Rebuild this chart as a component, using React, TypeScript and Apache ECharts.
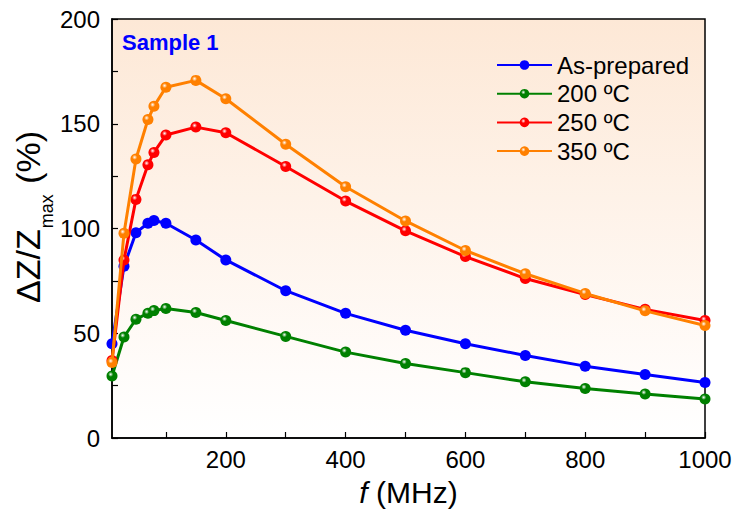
import React, { useEffect, useRef } from "react";
import * as echarts from "echarts";

const freqs = [10, 30, 50, 70, 80, 100, 150, 200, 300, 400, 500, 600, 700, 800, 900, 1000];
const asPrepared = [45, 82, 98, 102.5, 103.8, 102.5, 94.5, 85, 70.3, 59.5, 51.4, 45, 39.4, 34.3, 30.3, 26.5];
const t200 = [29.6, 48.2, 56.7, 59.5, 60.8, 61.8, 59.9, 56.1, 48.5, 41, 35.6, 31.2, 26.8, 23.6, 21, 18.6];
const t250 = [37, 85, 113.9, 130.4, 136.3, 144.6, 148.4, 145.7, 129.6, 113.1, 98.9, 86.6, 76.1, 68.5, 61.4, 56.1];
const t350 = [36, 97.7, 133.2, 152, 158.3, 167.4, 170.7, 161.9, 140.2, 119.9, 103.6, 89.5, 78.4, 69, 60.7, 53.7];
const seriesNames = ["As-prepared", "200 ºC", "250 ºC", "350 ºC"];
const seriesColors = ["#0000FF", "#008000", "#FF0000", "#FF8000"];
const xTickValues = [100, 200, 300, 400, 500, 600, 700, 800, 900, 1000];
const xLabelValues = [200, 400, 600, 800, 1000];

const FONT = "Arial, 'Liberation Sans', sans-serif";

function measure(text: string, fs: number): number {
  const c = document.createElement("canvas").getContext("2d");
  if (!c) return text.length * fs * 0.55;
  c.font = `${fs}px ${FONT}`;
  return c.measureText(text).width;
}

export default function App() {
  const ref = useRef<HTMLDivElement>(null);
  useEffect(() => {
    document.body.style.margin = "0";
    if (!ref.current) return;
    const chart = echarts.init(ref.current, null, { renderer: "svg" });
    const datasets = [asPrepared, t200, t250, t350];

    const glossy = (c: string, i: number) =>
      i === 0
        ? c
        : new echarts.graphic.RadialGradient(0.38, 0.35, 0.65, [
            { offset: 0, color: "#FFFFFF" },
            { offset: 0.35, color: c },
            { offset: 1, color: c },
          ]);

    const series = datasets.map((d, i) => ({
      name: seriesNames[i],
      type: "line",
      data: freqs.map((f, j) => [f, d[j]]),
      symbol: "circle",
      symbolSize: 11,
      lineStyle: { color: seriesColors[i], width: 3 },
      itemStyle: { color: glossy(seriesColors[i], i), borderWidth: 0 },
      emphasis: { disabled: true },
      z: 2 + i,
    }));

    const mainFs = 34;
    const subFs = 18;
    const w1 = measure("ΔZ/Z", mainFs);
    const w2 = measure("max", subFs);

    const textStyleBase = (text: string, fs: number) => ({
      text,
      fontSize: fs,
      fontFamily: FONT,
      fill: "#000",
      align: "left",
      verticalAlign: "middle",
      textAlign: "left",
      textVerticalAlign: "middle",
    });

    chart.setOption({
      animation: false,
      grid: {
        left: 112,
        right: 31,
        top: 19,
        bottom: 69,
        show: true,
        borderColor: "#000",
        borderWidth: 1.5,
        backgroundColor: new echarts.graphic.LinearGradient(0, 0, 0, 1, [
          { offset: 0, color: "#FDE8D6" },
          { offset: 0.85, color: "#FFFCFA" },
          { offset: 1, color: "#FFFFFF" },
        ]),
      },
      legend: {
        data: seriesNames,
        left: 491,
        top: 48,
        orient: "vertical",
        itemWidth: 55,
        itemHeight: 12,
        itemGap: 4.7,
        textStyle: { fontSize: 24, fontFamily: FONT, color: "#000", lineHeight: 24 },
        selectedMode: false,
      },
      xAxis: {
        type: "value",
        min: 10,
        max: 1000,
        axisLine: { onZero: false, lineStyle: { color: "#000", width: 1.5 } },
        axisTick: {
          inside: true,
          length: 6,
          customValues: xTickValues,
          lineStyle: { color: "#000", width: 1.2 },
        },
        axisLabel: {
          customValues: xLabelValues,
          formatter: (v: number) => String(v),
          fontSize: 24,
          fontFamily: FONT,
          color: "#000",
          margin: 9,
        },
        splitLine: { show: false },
        name: "{i|f} (MHz)",
        nameLocation: "middle",
        nameGap: 39,
        nameTextStyle: {
          fontSize: 30,
          fontFamily: FONT,
          color: "#000",
          rich: { i: { fontStyle: "italic", fontSize: 30, fontFamily: FONT, color: "#000" } },
        },
      },
      yAxis: {
        type: "value",
        min: 0,
        max: 200,
        interval: 50,
        axisLine: { lineStyle: { color: "#000", width: 1.5 } },
        axisTick: { inside: true, length: 6, lineStyle: { color: "#000", width: 1.2 } },
        minorTick: { show: true, splitNumber: 2, length: 6, lineStyle: { color: "#000", width: 1.2 } },
        axisLabel: { fontSize: 24, fontFamily: FONT, color: "#000", margin: 12 },
        splitLine: { show: false },
        minorSplitLine: { show: false },
      },
      graphic: [
        {
          type: "text",
          left: 122,
          top: 31,
          style: {
            text: "Sample 1",
            fontSize: 22,
            fontWeight: "bold",
            fontFamily: FONT,
            fill: "#0000FF",
          },
        },
        {
          type: "group",
          x: 0,
          y: 303,
          rotation: Math.PI / 2,
          children: [
            { type: "text", x: 0, y: 40 - 0.3465 * mainFs, style: textStyleBase("ΔZ/Z", mainFs) },
            { type: "text", x: w1 + 1, y: 53 - 0.3465 * subFs, style: textStyleBase("max", subFs) },
            { type: "text", x: w1 + w2 + 2, y: 40 - 0.3465 * mainFs, style: textStyleBase(" (%)", mainFs) },
          ],
        },
      ],
      series,
    });
    return () => chart.dispose();
  }, []);
  return <div ref={ref} style={{ width: 736, height: 512 }} />;
}
